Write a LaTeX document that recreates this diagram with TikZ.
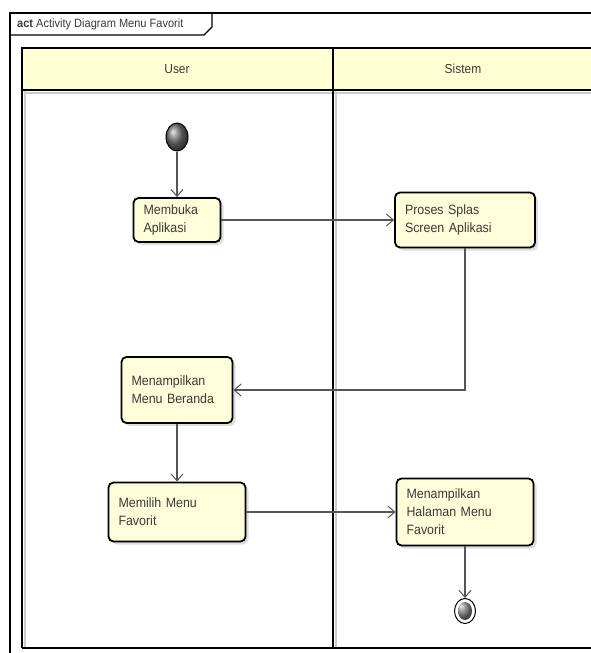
\documentclass[tikz,border=0pt]{standalone}
\usepackage{fontspec}
\setmainfont{Liberation Sans}
\newfontfamily\umlfont[FakeStretch=0.92]{Liberation Sans}
\usetikzlibrary{arrows.meta,shadows,shapes.geometric}
\definecolor{boxfill}{HTML}{FDFDDA}
\definecolor{headfill}{HTML}{FFFFD4}
\definecolor{txtgray}{HTML}{3A3A3A}
\definecolor{linegray}{HTML}{555555}
\begin{document}
\begin{tikzpicture}[x=1pt,y=-1pt]
		\tikzset{activity/.style = {shape=rectangle, rounded corners=5, draw=black, line width=1.8pt, fill=boxfill, text=txtgray, align=left, inner xsep=10, inner ysep=0, font=\umlfont\fontsize{13.5}{18}\selectfont, drop shadow={shadow xshift=3pt, shadow yshift=-3pt, fill=black!25, opacity=.5}},
			flow/.style = {draw=linegray, line width=1.2pt, -{Straight Barb[length=7pt,width=12pt,line width=1pt]}},
			initial/.style = {shape=ellipse, draw=black, line width=1pt, minimum width=22, minimum height=28, inner sep=0, shading=ball, ball color=black!55},
			final/.style = {shape=ellipse, draw=black, line width=1pt, fill=white, minimum width=21, minimum height=25, inner sep=0, path picture={\shade[ball color=black!55] (path picture bounding box.center) ellipse (7 and 9);}},
			lanetitle/.style = {text=txtgray, font=\umlfont\fontsize{13}{15}\selectfont}}

		\useasboundingbox (0,0) rectangle (590,653);
		\fill[white] (0,0) rectangle (590,653);

		\draw[line width=1.2pt] (10,665) -- (10,13) -- (600,13);
		\draw[line width=1.2pt] (10,35) -- (204,35) -- (212,27) -- (212,13);
		\node[anchor=west, text=txtgray, font=\umlfont\fontsize{12}{14}\selectfont, inner sep=0] (title) at (17,24) {\textbf{act} Activity Diagram Menu Favorit};

		\fill[headfill] (22,48) rectangle (600,90);
		\draw[black!20, line width=2.5pt] (24,93) -- (600,93);
		\draw[black!20, line width=2pt] (25,91) -- (25,647);
		\draw[black!20, line width=2pt] (336,91) -- (336,647);
		\draw[line width=1.6pt] (22,648) -- (22,48) -- (600,48);
		\draw[line width=1.6pt] (22,90) -- (600,90);
		\draw[line width=1.6pt] (333,48) -- (333,648);
		\draw[line width=1.6pt] (22,648) -- (600,648);

		\node[lanetitle] (user) at (177,69) {User};
		\node[lanetitle] (sistem) at (463,69) {Sistem};

		\node[initial] (start) at (177,137) {};
		\node[final] (end) at (465,611) {};

		\node[activity, text width=67, minimum height=44] (membuka) at (177,220) {Membuka\\Aplikasi};
		\node[activity, text width=120, minimum height=55] (proses) at (465,220) {Proses Splas\\Screen Aplikasi};
		\node[activity, text width=91, minimum height=66] (beranda) at (177,390) {Menampilkan\\Menu Beranda};
		\node[activity, text width=117, minimum height=59] (memilih) at (177,512) {Memilih Menu\\Favorit};
		\node[activity, text width=117, minimum height=67] (halaman) at (465,512) {Menampilkan\\Halaman Menu\\Favorit};

		\draw[flow] (start)--(membuka);
		\draw[flow] (membuka)--(proses);
		\draw[flow] (proses) |- (beranda);
		\draw[flow] (beranda)--(memilih);
		\draw[flow] (memilih)--(halaman);
		\draw[flow] (halaman)--(end);

	\end{tikzpicture}
\end{document}
